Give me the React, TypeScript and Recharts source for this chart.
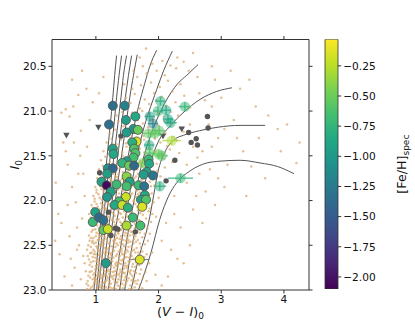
import React from "react";
import {
  ComposedChart,
  Scatter,
  Line,
  Bar,
  XAxis,
  YAxis,
  ErrorBar,
} from "recharts";

// axes
const xTicks = [1, 2, 3, 4];
const yTicks = [20.5, 21.0, 21.5, 22.0, 22.5, 23.0];
const cbarTicks = [-2.0, -1.75, -1.5, -1.25, -1.0, -0.75, -0.5, -0.25];
const fehMin = -2.1;
const fehMax = -0.03;

// photometric sample, [V-I, I]
const photometry: number[][] = [
  [0.88,22.95],[0.93,22.97],[0.97,22.92],[1.02,22.98],[1.06,22.94],[1.11,22.96],[1.15,22.91],[1.19,22.99],[1.24,22.93],[1.29,22.97],[1.33,22.92],[1.38,22.96],[1.43,22.98],[1.48,22.93],[1.55,22.95],[1.62,22.97],
  [0.91,22.86],[0.96,22.83],[1.00,22.88],[1.04,22.81],[1.08,22.87],[1.13,22.84],[1.17,22.89],[1.21,22.82],[1.26,22.86],[1.31,22.83],[1.36,22.88],[1.41,22.85],[1.46,22.81],[1.52,22.87],[1.58,22.84],[1.67,22.89],
  [0.84,22.79],[0.94,22.74],[0.99,22.77],[1.03,22.72],[1.07,22.78],[1.12,22.75],[1.16,22.71],[1.20,22.77],[1.25,22.73],[1.30,22.79],[1.35,22.74],[1.40,22.71],[1.45,22.76],[1.50,22.73],[1.56,22.78],[1.63,22.74],[1.72,22.77],
  [0.89,22.66],[0.95,22.63],[1.01,22.68],[1.05,22.61],[1.10,22.65],[1.14,22.69],[1.19,22.62],[1.23,22.67],[1.28,22.64],[1.33,22.69],[1.38,22.62],[1.43,22.66],[1.49,22.63],[1.54,22.68],[1.60,22.65],[1.68,22.61],
  [0.86,22.55],[0.92,22.52],[0.98,22.57],[1.02,22.53],[1.07,22.58],[1.11,22.51],[1.16,22.56],[1.21,22.53],[1.26,22.58],[1.31,22.52],[1.36,22.57],[1.41,22.54],[1.47,22.59],[1.52,22.52],[1.58,22.56],[1.65,22.53],[1.74,22.57],
  [0.90,22.45],[0.96,22.42],[1.00,22.47],[1.05,22.43],[1.09,22.48],[1.14,22.41],[1.18,22.46],[1.23,22.43],[1.29,22.48],[1.34,22.42],[1.39,22.47],[1.44,22.44],[1.50,22.41],[1.55,22.46],[1.61,22.43],[1.70,22.48],
  [0.93,22.35],[0.99,22.32],[1.04,22.37],[1.08,22.33],[1.13,22.38],[1.17,22.31],[1.22,22.36],[1.27,22.33],[1.32,22.39],[1.37,22.34],[1.42,22.31],[1.47,22.36],[1.53,22.33],[1.59,22.38],[1.66,22.34],[1.78,22.37],
  [0.87,22.90],[0.95,22.88],[1.01,22.93],[1.09,22.91],[1.14,22.79],[1.22,22.90],[1.27,22.80],[1.34,22.91],[1.39,22.80],[1.45,22.89],[1.51,22.79],[1.60,22.92],[1.70,22.82],
  [0.82,22.70],[0.92,22.69],[0.97,22.60],[1.04,22.66],[1.09,22.71],[1.15,22.60],[1.18,22.73],[1.24,22.61],[1.31,22.71],[1.37,22.66],[1.42,22.60],[1.47,22.70],[1.53,22.64],[1.59,22.71],[1.66,22.67],[1.77,22.63],
  [0.88,22.50],[0.94,22.47],[1.00,22.40],[1.06,22.50],[1.10,22.44],[1.15,22.53],[1.20,22.40],[1.25,22.51],[1.30,22.45],[1.35,22.50],[1.40,22.40],[1.45,22.51],[1.51,22.47],[1.57,22.51],[1.63,22.40],[1.72,22.52],[1.83,22.45],
  [0.80,22.62],[0.76,22.88],[1.85,22.70],[1.90,22.58],[0.73,22.50],[1.95,22.83],
  [0.86,22.99],[0.99,22.90],[1.05,22.85],[1.10,22.99],[1.18,22.85],[1.23,22.97],[1.28,22.88],[1.32,22.99],[1.37,22.82],[1.42,22.93],[1.47,22.86],[1.53,22.99],[1.57,22.89],[1.65,22.93],[1.74,22.98],[1.81,22.90],
  [0.90,22.80],[0.98,22.81],[1.03,22.76],[1.08,22.83],[1.13,22.72],[1.19,22.79],[1.24,22.84],[1.29,22.75],[1.34,22.83],[1.39,22.77],[1.44,22.81],[1.49,22.75],[1.55,22.82],[1.61,22.79],[1.69,22.72],[1.79,22.80],
  [0.87,22.62],[0.93,22.58],[0.99,22.64],[1.04,22.56],[1.08,22.62],[1.13,22.66],[1.17,22.58],[1.22,22.64],[1.27,22.55],[1.32,22.62],[1.36,22.69],[1.41,22.57],[1.46,22.64],[1.51,22.57],[1.57,22.62],[1.63,22.58],[1.71,22.64],[1.81,22.60],
  [0.89,22.39],[0.95,22.45],[1.01,22.51],[1.06,22.39],[1.11,22.46],[1.16,22.36],[1.21,22.48],[1.26,22.38],[1.31,22.43],[1.36,22.37],[1.41,22.44],[1.46,22.39],[1.52,22.44],[1.58,22.35],[1.64,22.46],[1.74,22.41],[1.86,22.37],
  [0.85,22.93],[0.91,22.99],[0.96,22.95],[1.03,22.90],[1.07,22.97],[1.12,22.92],[1.16,22.97],[1.21,22.94],[1.26,22.99],[1.30,22.91],[1.35,22.95],[1.40,22.89],[1.46,22.95],[1.50,22.90],[1.58,22.99],[1.63,22.90],[1.70,22.94],
  [0.88,22.84],[0.93,22.79],[0.98,22.86],[1.02,22.84],[1.06,22.80],[1.10,22.86],[1.15,22.82],[1.19,22.87],[1.23,22.79],[1.28,22.84],[1.33,22.78],[1.38,22.85],[1.42,22.79],[1.48,22.84],[1.54,22.80],[1.60,22.87],[1.64,22.81],[1.75,22.86],
  [0.90,22.72],[0.96,22.68],[1.00,22.73],[1.05,22.69],[1.11,22.70],[1.16,22.66],[1.21,22.71],[1.26,22.68],[1.32,22.73],[1.37,22.70],[1.41,22.67],[1.46,22.73],[1.52,22.68],[1.58,22.74],[1.64,22.69],[1.73,22.70],
  [0.91,22.59],[0.96,22.55],[1.00,22.60],[1.06,22.55],[1.12,22.58],[1.18,22.54],[1.23,22.59],[1.29,22.56],[1.34,22.60],[1.39,22.55],[1.44,22.60],[1.49,22.55],[1.55,22.60],[1.61,22.55],[1.68,22.58],
  [0.92,22.42],[0.97,22.48],[1.03,22.44],[1.08,22.40],[1.12,22.49],[1.17,22.43],[1.22,22.39],[1.28,22.45],[1.33,22.48],[1.38,22.43],[1.43,22.49],[1.48,22.45],[1.54,22.39],[1.60,22.48],[1.67,22.44],[1.78,22.49],
  [0.95,22.33],[1.01,22.36],[1.06,22.34],[1.12,22.30],[1.15,22.36],[1.20,22.33],[1.25,22.36],[1.30,22.32],[1.35,22.36],[1.40,22.33],[1.45,22.32],[1.50,22.37],[1.56,22.35],[1.62,22.31],[1.70,22.36],
  [0.91,22.27],[0.97,22.22],[1.02,22.28],[1.07,22.21],[1.11,22.26],[1.16,22.23],[1.21,22.29],[1.26,22.22],[1.31,22.27],[1.36,22.21],[1.41,22.26],[1.46,22.23],[1.51,22.28],[1.56,22.21],[1.62,22.26],[1.69,22.22],[1.77,22.28],[1.88,22.24],
  [0.94,22.28],[1.00,22.25],[1.05,22.31],[1.10,22.24],[1.19,22.26],[1.24,22.30],[1.29,22.24],[1.34,22.29],[1.39,22.24],[1.44,22.29],[1.49,22.25],[1.55,22.30],[1.65,22.29],[1.73,22.24],[1.82,22.31],
  [0.89,22.15],[0.95,22.11],[1.00,22.17],[1.05,22.12],[1.10,22.16],[1.15,22.10],[1.20,22.18],[1.25,22.13],[1.30,22.17],[1.35,22.11],[1.40,22.15],[1.45,22.12],[1.50,22.18],[1.55,22.13],[1.61,22.17],[1.67,22.11],[1.75,22.16],[1.84,22.12],[1.96,22.18],
  [0.92,22.19],[0.98,22.14],[1.03,22.20],[1.08,22.14],[1.13,22.19],[1.18,22.14],[1.23,22.20],[1.28,22.15],[1.33,22.21],[1.38,22.14],[1.43,22.19],[1.48,22.15],[1.53,22.20],[1.58,22.15],[1.64,22.20],[1.71,22.14],[1.80,22.20],[1.90,22.15],
  [0.93,22.05],[0.98,22.01],[1.03,22.07],[1.08,22.03],[1.13,22.08],[1.18,22.02],[1.23,22.06],[1.28,22.01],[1.33,22.07],[1.38,22.03],[1.44,22.08],[1.49,22.02],[1.54,22.06],[1.60,22.01],[1.66,22.07],[1.73,22.03],[1.81,22.06],[1.92,22.02],
  [0.95,22.08],[1.01,22.04],[1.06,22.10],[1.11,22.05],[1.16,22.09],[1.21,22.04],[1.26,22.09],[1.31,22.04],[1.36,22.09],[1.41,22.05],[1.47,22.10],[1.52,22.04],[1.57,22.09],[1.63,22.04],[1.69,22.09],[1.77,22.05],[1.86,22.09],
  [0.96,21.95],[1.01,21.91],[1.06,21.97],[1.12,21.92],[1.17,21.96],[1.22,21.90],[1.27,21.94],[1.32,21.98],[1.37,21.92],[1.42,21.95],[1.47,21.91],[1.53,21.97],[1.58,21.92],[1.64,21.96],[1.70,21.91],[1.79,21.95],[1.89,21.92],
  [0.98,21.98],[1.04,21.93],[1.09,21.99],[1.15,21.94],[1.20,21.99],[1.25,21.93],[1.30,21.91],[1.35,21.96],[1.40,21.99],[1.45,21.93],[1.50,21.98],[1.56,21.94],[1.61,21.99],[1.67,21.93],[1.74,21.98],[1.84,21.93],[2.00,21.97],
  [0.99,21.85],[1.04,21.81],[1.09,21.87],[1.14,21.82],[1.20,21.86],[1.25,21.80],[1.30,21.84],[1.35,21.88],[1.40,21.82],[1.45,21.86],[1.51,21.80],[1.56,21.85],[1.62,21.81],[1.68,21.87],[1.74,21.82],[1.83,21.86],[1.94,21.83],
  [1.01,21.88],[1.07,21.84],[1.12,21.89],[1.17,21.84],[1.22,21.89],[1.28,21.83],[1.33,21.81],[1.38,21.86],[1.43,21.89],[1.48,21.83],[1.54,21.88],[1.59,21.83],[1.65,21.89],[1.71,21.84],[1.78,21.89],[1.88,21.84],
  [1.02,21.75],[1.07,21.71],[1.12,21.77],[1.18,21.72],[1.23,21.76],[1.28,21.70],[1.34,21.74],[1.39,21.78],[1.44,21.72],[1.50,21.76],[1.55,21.71],[1.61,21.75],[1.67,21.70],[1.73,21.77],[1.80,21.72],[1.91,21.76],[2.03,21.73],
  [1.04,21.78],[1.10,21.74],[1.15,21.79],[1.20,21.74],[1.26,21.79],[1.31,21.73],[1.36,21.71],[1.42,21.76],[1.47,21.79],[1.53,21.73],[1.58,21.78],[1.64,21.73],[1.70,21.79],[1.77,21.74],[1.86,21.79],[1.97,21.71],
  [1.05,21.65],[1.11,21.61],[1.16,21.67],[1.22,21.62],[1.27,21.66],[1.33,21.60],[1.38,21.64],[1.43,21.68],[1.49,21.62],[1.54,21.66],[1.60,21.61],[1.66,21.65],[1.72,21.60],[1.79,21.66],[1.87,21.62],[1.98,21.67],[2.10,21.63],
  [1.08,21.55],[1.15,21.51],[1.22,21.57],[1.29,21.52],[1.36,21.56],[1.43,21.50],[1.50,21.54],[1.57,21.58],[1.64,21.52],[1.71,21.56],[1.79,21.51],[1.88,21.55],[1.97,21.59],[2.09,21.53],[2.22,21.57],
  [1.12,21.45],[1.20,21.41],[1.28,21.47],[1.35,21.42],[1.42,21.46],[1.49,21.40],[1.56,21.44],[1.63,21.48],[1.70,21.42],[1.78,21.46],[1.86,21.41],[1.95,21.45],[2.06,21.49],[2.18,21.43],[2.33,21.47],
  [1.17,21.35],[1.25,21.31],[1.33,21.37],[1.40,21.32],[1.48,21.36],[1.55,21.30],[1.62,21.34],[1.69,21.38],[1.77,21.32],[1.85,21.36],[1.94,21.31],[2.03,21.35],[2.14,21.39],[2.29,21.33],
  [1.22,21.25],[1.31,21.21],[1.38,21.27],[1.46,21.22],[1.53,21.26],[1.61,21.20],[1.68,21.24],[1.76,21.28],[1.84,21.22],[1.92,21.26],[2.01,21.21],[2.11,21.25],[2.24,21.29],[2.40,21.23],
  [1.27,21.15],[1.36,21.11],[1.44,21.17],[1.52,21.12],[1.60,21.16],[1.67,21.10],[1.75,21.14],[1.83,21.18],[1.91,21.12],[2.00,21.16],[2.09,21.11],[2.20,21.15],[2.34,21.19],
  [1.33,21.05],[1.42,21.01],[1.50,21.07],[1.58,21.02],[1.66,21.06],[1.74,21.00],[1.82,21.04],[1.90,21.08],[1.99,21.02],[2.08,21.06],[2.19,21.01],[2.31,21.05],
  [1.40,20.95],[1.55,20.91],[1.70,20.97],[1.85,20.92],[1.96,20.88],[2.12,20.94],[2.27,20.90],[2.50,20.96],[1.48,20.85],[1.62,20.81],[1.78,20.87],[1.93,20.80],[2.05,20.84],[2.22,20.78],[2.41,20.83],
  [1.58,20.75],[1.72,20.71],[1.88,20.68],[2.02,20.73],[2.15,20.66],[2.35,20.70],[1.66,20.62],[1.81,20.58],[1.97,20.55],[2.10,20.60],[2.28,20.52],[1.90,20.47],[2.06,20.44],[2.19,20.49],[1.75,20.50],
  [2.62,20.62],[2.48,20.55],[2.74,20.88],[1.05,20.80],[1.12,20.62],[1.60,20.55],[1.45,20.70],
  [0.45,21.02],[0.52,20.98],[0.58,21.06],[0.48,21.35],[0.64,20.95],[0.72,20.82],[0.76,21.22],[0.55,21.60],[0.62,21.85],[0.40,22.15],[0.68,22.02],[0.75,21.50],
  [0.82,21.95],[0.42,22.60],[0.50,22.85],[0.58,22.40],[0.70,22.30],[0.66,22.75],[0.80,21.70],[0.86,21.40],[0.90,21.10],[0.95,20.90],[0.36,21.80],[0.62,22.95],
  [0.35,22.45],[0.45,22.25],[0.55,22.05],[0.60,22.65],[0.70,22.55],[0.78,22.20],[0.52,21.45],[0.65,21.35],[0.72,21.70],[0.85,20.75],[0.78,20.55],[0.62,20.65],
  [2.45,21.80],[2.60,21.95],[2.70,21.45],[2.82,21.65],[2.95,21.30],[3.05,21.85],[3.20,21.10],[3.35,21.45],[3.48,21.62],[3.60,21.30],[3.75,21.05],[3.90,21.20],
  [4.05,21.15],[4.20,21.58],[3.15,20.55],[2.90,20.65],[3.00,20.85],[3.30,20.75],[2.85,20.95],[2.55,22.10],[2.35,22.30],[2.20,22.55],[2.15,22.85],[2.40,22.70],
  [2.70,22.25],[2.25,21.95],[2.62,21.52],[2.80,21.15],[3.10,21.60],[2.50,21.15],[2.90,22.05],[1.70,20.40],[1.80,20.30],[2.55,20.35],
  [2.05,22.45],[2.12,22.25],[2.25,22.15],[2.30,22.65],[2.50,22.50],[2.05,22.95],[2.45,21.60],[2.55,21.40],[2.65,21.70],[2.75,21.90],[2.85,21.40],[2.95,21.75],
  [3.05,21.20],[3.25,21.30],[3.40,21.95],[3.55,20.95],[3.70,21.75],[3.95,21.45],[4.25,21.35],[2.40,20.45],[2.65,20.80],[2.85,20.50],[3.45,20.65],[2.30,20.40],
];

// spectroscopic members: [V-I, I, [Fe/H], err(V-I)]
const specMembers: number[][] = [
  [1.27,20.94,-1.35,0.04],[1.46,20.94,-1.2,0.04],[1.21,21.15,-1.35,0.04],[1.48,21.10,-0.95,0.04],
  [1.63,21.06,-0.85,0.04],[1.60,21.20,-1.0,0.04],[1.67,21.21,-0.5,0.04],[1.49,21.24,-0.95,0.04],
  [1.65,21.34,-0.15,0.04],[1.58,21.35,-0.8,0.04],[1.27,21.42,-0.9,0.04],[1.28,21.48,-0.85,0.04],
  [1.61,21.42,-0.6,0.04],[1.63,21.47,-0.6,0.04],[1.60,21.52,-0.65,0.04],[1.49,21.56,-0.95,0.04],
  [1.42,21.58,-0.75,0.04],[1.53,21.61,-0.5,0.04],[1.61,21.61,-1.4,0.04],[1.84,21.54,-0.7,0.05],
  [1.85,21.59,-0.85,0.05],[1.19,21.64,-1.05,0.04],[1.27,21.64,-1.4,0.04],[1.18,21.70,-0.95,0.04],
  [1.81,21.68,-0.9,0.05],[1.76,21.71,-0.95,0.05],[1.91,21.72,-1.3,0.06],[1.49,21.73,-0.4,0.04],
  [1.54,21.79,-0.9,0.04],[1.09,21.79,-0.9,0.04],[1.17,21.83,-2.05,0.04],[1.33,21.82,-0.7,0.04],
  [1.49,21.84,-0.65,0.04],[1.68,21.83,-0.7,0.05],[1.77,21.84,-1.3,0.05],[1.24,21.90,-0.9,0.04],
  [1.18,21.96,-1.0,0.04],[1.78,21.94,-0.85,0.05],[1.72,21.99,-0.9,0.05],[1.80,21.99,-0.6,0.05],
  [1.48,21.96,-0.2,0.04],[1.37,22.01,-0.65,0.04],[1.30,22.05,-0.85,0.04],[1.42,22.05,-0.2,0.04],
  [1.51,22.08,-0.8,0.04],[1.74,22.07,-0.15,0.06],[0.99,22.13,-0.9,0.04],[0.95,22.24,-0.7,0.04],
  [1.05,22.19,-1.4,0.04],[1.12,22.22,-1.35,0.04],[1.59,22.19,-0.7,0.05],[1.71,22.28,-0.65,0.05],
  [1.49,22.28,-0.3,0.1],[1.12,22.33,-0.55,0.04],[1.19,22.32,-0.2,0.08],[1.70,22.66,-0.15,0.15],
  [1.16,22.70,-0.95,0.08],
];

// second spectroscopic set (translucent): [V-I, I, [Fe/H], err(V-I)]
const specOther: number[][] = [
  [2.03,20.89,-0.8,0.08],[1.99,21.00,-0.75,0.08],[2.12,20.99,-0.85,0.08],[2.42,20.95,-0.75,0.1],
  [1.86,21.06,-0.95,0.08],[2.15,21.09,-0.9,0.08],[2.19,21.13,-0.85,0.1],[1.91,21.14,-1.2,0.08],
  [2.01,21.22,-0.6,0.1],[1.84,21.25,-0.55,0.1],[1.94,21.25,-0.55,0.1],[2.21,21.33,-0.3,0.15],
  [1.85,21.38,-0.85,0.08],[1.86,21.47,-0.6,0.1],[2.00,21.48,-0.5,0.1],[2.05,21.50,-0.6,0.1],
  [1.75,21.58,-0.45,0.08],[2.35,21.75,-0.75,0.2],[2.02,21.84,-0.8,0.1],
];

// non-members
const grayDots: number[][] = [
  [2.78,21.06],[2.79,21.19],[2.48,21.24],[2.60,21.31],[2.52,21.35],[2.62,21.38],[2.26,21.55],[2.12,21.78],
  [1.40,21.28],[1.06,21.69],[1.20,22.13],[1.31,22.31],[1.24,22.39],[1.63,22.35],[1.35,22.32],
];
const upperLimits: number[][] = [[0.53,21.27],[1.04,21.18],[2.07,21.28],[2.37,21.20]];

// isochrones, bottom to top
const isochrones: number[][][] = [
  [[0.97,23.0],[1.04,22.5],[1.11,22.0],[1.18,21.5],[1.23,21.15],[1.27,20.85],[1.30,20.6],[1.33,20.38]],
  [[1.01,23.0],[1.08,22.5],[1.15,22.0],[1.23,21.5],[1.29,21.15],[1.33,20.85],[1.37,20.6],[1.41,20.38]],
  [[1.04,23.0],[1.12,22.5],[1.20,22.0],[1.29,21.5],[1.35,21.15],[1.40,20.85],[1.44,20.6],[1.49,20.38]],
  [[1.09,23.0],[1.17,22.5],[1.26,22.0],[1.35,21.5],[1.41,21.15],[1.47,20.85],[1.52,20.6],[1.57,20.38]],
  [[1.13,23.0],[1.22,22.5],[1.31,22.0],[1.41,21.5],[1.48,21.15],[1.54,20.85],[1.60,20.6],[1.66,20.37]],
  [[1.20,23.0],[1.28,22.5],[1.39,22.0],[1.49,21.6],[1.60,21.2],[1.68,20.95],[1.78,20.69],[1.86,20.5],[1.97,20.32]],
  [[1.29,23.0],[1.40,22.5],[1.52,22.0],[1.63,21.6],[1.76,21.2],[1.84,21.02],[1.97,20.76],[2.08,20.55],[2.22,20.33]],
  [[1.38,23.0],[1.48,22.5],[1.61,22.0],[1.73,21.6],[1.86,21.3],[1.97,21.1],[2.10,20.91],[2.31,20.69],[2.45,20.6],[2.63,20.48]],
  [[1.46,23.0],[1.58,22.5],[1.72,22.0],[1.86,21.6],[1.99,21.35],[2.18,21.17],[2.39,21.02],[2.66,20.87],[2.93,20.78],[3.17,20.74]],
  [[1.56,23.0],[1.70,22.6],[1.84,22.25],[1.92,21.95],[1.99,21.68],[2.10,21.46],[2.23,21.33],[2.40,21.27],[2.65,21.22],[2.95,21.18],[3.30,21.16],[3.70,21.16]],
  [[1.68,23.0],[1.88,22.58],[2.02,22.21],[2.16,21.95],[2.29,21.80],[2.50,21.67],[2.77,21.58],[2.98,21.56],[3.30,21.55],[3.62,21.58],[3.90,21.62],[4.16,21.70]],
];

// colour bar extent
const cbarData = [{ k: "feh", range: [fehMin, fehMax] }];

const viridisStops = [
  "#440154", "#482475", "#414487", "#355f8d", "#2a788e", "#21918c",
  "#22a884", "#44bf70", "#7ad151", "#bddf26", "#fde725",
];

function hexToRgb(h: string) {
  return [1, 3, 5].map((i) => parseInt(h.slice(i, i + 2), 16));
}

function viridis(v: number) {
  let t = (v - fehMin) / (fehMax - fehMin);
  t = Math.max(0, Math.min(1, t));
  const s = t * (viridisStops.length - 1);
  const i = Math.min(viridisStops.length - 2, Math.floor(s));
  const f = s - i;
  const a = hexToRgb(viridisStops[i]);
  const b = hexToRgb(viridisStops[i + 1]);
  const c = a.map((av, k) => Math.round(av + (b[k] - av) * f));
  return `rgb(${c[0]},${c[1]},${c[2]})`;
}

const FONT = "DejaVu Sans";
const tickStyle = { fill: "#111", fontSize: 10.6, fontFamily: FONT };
const axisColor = "#333";

const photData = photometry.map(([x, y]) => ({ x, y }));
const memberData = specMembers.map(([x, y, feh, ex]) => ({ x, y, feh, ex }));
const otherData = specOther.map(([x, y, feh, ex]) => ({ x, y, feh, ex, ey: 0.05 }));
const grayData = grayDots.map(([x, y]) => ({ x, y }));
const limitData = upperLimits.map(([x, y]) => ({ x, y }));
const isoData = isochrones.map((iso) => iso.map(([x, y]) => ({ x, y })));

const TanDot = (p: any) => (
  <circle cx={p.cx} cy={p.cy} r={1.25} fill="#d9a568" fillOpacity={0.7} />
);
const GrayDot = (p: any) => <circle cx={p.cx} cy={p.cy} r={2.7} fill="#555" />;
const DownTri = (p: any) => (
  <polygon
    points={`${p.cx - 3.2},${p.cy - 2.4} ${p.cx + 3.2},${p.cy - 2.4} ${p.cx},${p.cy + 3.2}`}
    fill="#555"
  />
);
const MemberDot = (p: any) => (
  <circle cx={p.cx} cy={p.cy} r={4.5} fill={viridis(p.payload.feh)} stroke="#555" strokeWidth={0.9} />
);
const OtherDot = (p: any) => (
  <circle cx={p.cx} cy={p.cy} r={5.2} fill={viridis(p.payload.feh)} fillOpacity={0.5} />
);
const NoShape = () => <g />;
const NoTick = () => <g />;

const XLabel = (props: any) => {
  const vb = props.viewBox;
  const cx = vb.x + vb.width / 2;
  return (
    <text x={cx} y={vb.y + 25.5} textAnchor="middle" fontFamily={FONT} fontSize={12.7} fill="#111">
      (<tspan fontStyle="italic">V</tspan> − <tspan fontStyle="italic">I</tspan>)
      <tspan fontSize={9} dy={3}>0</tspan>
    </text>
  );
};

const YLabel = (props: any) => {
  const vb = props.viewBox;
  const bx = 18.5;
  const cy = vb.y + vb.height / 2;
  return (
    <text x={bx} y={cy} transform={`rotate(-90 ${bx} ${cy})`} textAnchor="middle" fontFamily={FONT} fontSize={12.7} fill="#111">
      <tspan fontStyle="italic">I</tspan>
      <tspan fontSize={9} dy={3}>0</tspan>
    </text>
  );
};

const CbarLabel = (props: any) => {
  const vb = props.viewBox;
  const bx = vb.x + 68;
  const cy = vb.y + vb.height / 2;
  return (
    <text x={bx} y={cy} transform={`rotate(-90 ${bx} ${cy})`} textAnchor="middle" fontFamily={FONT} fontSize={12.7} fill="#111">
      [Fe/H]<tspan fontSize={9} dy={3}>spec</tspan>
    </text>
  );
};

function MainPlot() {
  return (
    <ComposedChart width={415} height={332} margin={{ top: 38.5, right: 105, bottom: 12, left: 12 }}>
      <XAxis
        dataKey="x"
        type="number"
        domain={[0.3, 4.4]}
        ticks={xTicks}
        allowDataOverflow
        height={30}
        tickSize={3.5}
        tick={tickStyle}
        axisLine={{ stroke: axisColor }}
        tickLine={{ stroke: axisColor }}
        label={<XLabel />}
      />
      <XAxis
        xAxisId="top"
        dataKey="x"
        orientation="top"
        type="number"
        domain={[0.3, 4.4]}
        ticks={xTicks}
        allowDataOverflow
        height={1}
        tickSize={3.5}
        tick={<NoTick />}
        axisLine={{ stroke: axisColor }}
        tickLine={{ stroke: axisColor }}
      />
      <YAxis
        dataKey="y"
        type="number"
        reversed
        domain={[20.2, 23.0]}
        ticks={yTicks}
        allowDataOverflow
        width={40}
        tickSize={3.5}
        tick={tickStyle}
        tickFormatter={(v: number) => v.toFixed(1)}
        axisLine={{ stroke: axisColor }}
        tickLine={{ stroke: axisColor }}
        label={<YLabel />}
      />
      <YAxis
        yAxisId="right"
        dataKey="y"
        orientation="right"
        type="number"
        reversed
        domain={[20.2, 23.0]}
        ticks={yTicks}
        allowDataOverflow
        width={1}
        tickSize={3.5}
        tick={<NoTick />}
        axisLine={{ stroke: axisColor }}
        tickLine={{ stroke: axisColor }}
      />
      {/* binds the top and right frame axes */}
      <Scatter xAxisId="top" yAxisId="right" data={limitData} shape={NoShape} isAnimationActive={false} />
      <Scatter data={photData} shape={TanDot} isAnimationActive={false} />
      {isoData.map((d, i) => (
        <Line
          key={`iso${i}`}
          data={d}
          dataKey="y"
          type="monotone"
          stroke="#555"
          strokeWidth={1}
          dot={false}
          activeDot={false}
          isAnimationActive={false}
        />
      ))}
      <Scatter data={grayData} shape={GrayDot} isAnimationActive={false} />
      <Scatter data={limitData} shape={DownTri} isAnimationActive={false} />
      {otherData.map((d, i) => {
        const c = viridis(d.feh);
        return (
          <Scatter key={`o${i}`} data={[d]} shape={OtherDot} isAnimationActive={false}>
            <ErrorBar dataKey="ex" direction="x" width={0} stroke={c} strokeOpacity={0.75} strokeWidth={1.5} />
            <ErrorBar dataKey="ey" direction="y" width={0} stroke={c} strokeOpacity={0.75} strokeWidth={1.5} />
          </Scatter>
        );
      })}
      <Scatter data={memberData} shape={MemberDot} isAnimationActive={false}>
        <ErrorBar dataKey="ex" direction="x" width={0} stroke="#777" strokeWidth={1} />
      </Scatter>
    </ComposedChart>
  );
}

function ColorBar() {
  return (
    <ComposedChart
      width={115}
      height={332}
      data={cbarData}
      margin={{ top: 39.3, right: 0, bottom: 43, left: 25 }}
      barCategoryGap={0}
    >
      <defs>
        <linearGradient id="viridisBar" x1="0" y1="1" x2="0" y2="0">
          {viridisStops.map((c, i) => (
            <stop key={c} offset={i / (viridisStops.length - 1)} stopColor={c} />
          ))}
        </linearGradient>
      </defs>
      <XAxis dataKey="k" type="category" hide />
      <YAxis
        type="number"
        orientation="right"
        domain={[fehMin, fehMax]}
        ticks={cbarTicks}
        allowDataOverflow
        width={77.3}
        tickSize={3.5}
        tick={tickStyle}
        axisLine={false}
        tickLine={{ stroke: axisColor }}
        tickFormatter={(v: number) => "−" + Math.abs(v).toFixed(2)}
        label={<CbarLabel />}
      />
      <Bar
        dataKey="range"
        fill="url(#viridisBar)"
        stroke={axisColor}
        strokeWidth={0.8}
        isAnimationActive={false}
      />
    </ComposedChart>
  );
}

export default function App() {
  return (
    <div style={{ position: "absolute", left: 0, top: 0, width: 415, height: 332, background: "#fff" }}>
      <div style={{ position: "absolute", left: 0, top: 0 }}>
        <MainPlot />
      </div>
      <div style={{ position: "absolute", left: 300, top: 0 }}>
        <ColorBar />
      </div>
    </div>
  );
}
